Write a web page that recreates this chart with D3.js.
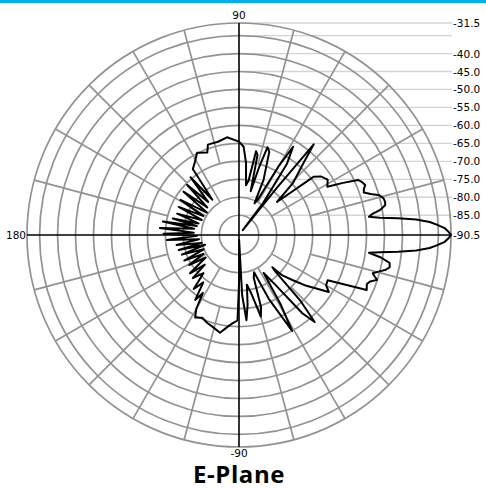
<!DOCTYPE html>
<html>
<head>
<meta charset="utf-8">
<script src="https://cdn.jsdelivr.net/npm/d3@7"></script>
<style>
  body { margin: 0; background: #fff; }
  svg { display: block; }
  .grid { fill: none; stroke: #929292; stroke-width: 1.7; }
  .axis { stroke: #000; stroke-width: 1.6; }
  .lvlLine { stroke: #d4d4d4; stroke-width: 1.3; }
  .lbl { font-family: "DejaVu Sans", sans-serif; font-size: 10.5px; fill: #000; }
  .pattern { fill: none; stroke: #000; stroke-width: 2; stroke-linejoin: round; }
  .title { font-family: "Open Sans", sans-serif; font-weight: bold; font-size: 24px; letter-spacing: 0.6px; fill: #000; }
</style>
</head>
<body>
<script>
(function(){

//pattern data, angle in degrees (0 = right, counter clockwise) and level in dB
var patAngles = [0, 0.8, 1.9, 3.0, 3.9, 5.0, 6.0, 7.0, 8, 9, 10, 11.5, 12.7, 14.2, 15.8, 17.3, 18.8, 20.2, 21.6, 23.2, 24.8, 26.6, 28.6, 32, 35.6, 38, 41, 44, 48, 50.5, 51.2, 51.8,
  53, 56, 58.5, 60, 62, 64, 66, 70, 72, 73.5, 75, 77, 78.5, 80, 82, 84.4, 87, 90, 97, 102.7, 109, 111, 117, 121,
  125, 127, 130, 133, 136, 139, 142, 145, 149, 152, 155, 158, 161, 164, 166, 168, 170, 172, 175, 177, 179,
  181, 184, 186, 189, 192, 194, 196, 199, 202, 205, 208, 211, 214, 218, 221, 223, 227, 230, 233, 236, 238,
  240, 242, 246, 250, 254, 259, 263, 266, 269, 270.5, 271.5, 273, 275, 277, 279, 282, 285, 287, 289, 292,
  295, 299, 301, 303, 306, 309, 311, 313, 315, 316, 317, 320, 323, 327.6, 330, 333, 336.7, 339, 340.5, 342, 343, 344, 345.5,
  346.7, 348, 349.5, 351, 352.2, 353, 354, 355, 356.1, 357, 358.1, 359.2];
var patLevels = [-31.5, -32.1, -33.2, -35.4, -37.3, -41.0, -46.0, -51.0, -54.0, -52.9, -50.7, -49.0, -48.8, -49.0, -49.9, -52.1, -53.8, -53.5, -52.7, -53.2, -54.0, -58.1, -62.5, -61.4, -62.5, -64.2, -76.5, -69.5, -63.9, -57.8, -73.7, -88.8,
  -79.3, -66.7, -61.7, -68.1, -79.3, -80.7, -73.7, -65.9, -64.8, -70.9, -77.9, -67.6, -66.7, -75.1, -76.5, -70.4, -65.9, -64.5, -63.1, -63.9, -63.9, -65.9, -64.8, -66.7,
  -68.1, -78.2, -69.5, -77.9, -70.4, -78.8, -70.9, -79.6, -71.5, -79.3, -72.0, -79.3, -72.3, -78.8, -71.5, -78.5, -69.0, -77.9, -68.4, -77.9, -69.5,
  -78.8, -70.4, -79.3, -72.9, -79.9, -73.2, -80.7, -73.7, -79.9, -73.7, -79.3, -74.3, -79.3, -73.2, -77.9, -72.9, -76.0, -70.9, -74.0, -68.7, -71.5,
  -66.7, -64.5, -65.3, -64.5, -63.9, -62.8, -64.8, -65.9, -66.7, -79.3, -89.1, -73.7, -66.7, -70.9, -76.5, -73.7, -67.0, -69.5, -77.9, -79.3,
  -70.9, -60.0, -68.1, -77.9, -73.7, -62.5, -58.4, -65.3, -76.5, -77.6, -74.0, -70.9, -67.0, -60.9, -62.5, -62.8, -51.8, -52.4, -51.8, -50.1, -51.0, -51.8, -50.1,
  -48.5, -47.6, -47.9, -50.5, -54.0, -51.0, -46.0, -41.0, -37.3, -35.4, -33.2, -32.1];

//radial levels
var ringLevels = [-85, -80, -75, -70, -65, -60, -55, -50, -45, -40, -35, -31.5];
var levelLabels = ["-31.5", "-40.0", "-45.0", "-50.0", "-55.0", "-60.0", "-65.0", "-70.0", "-75.0", "-80.0", "-85.0", "-90.5"];
var levelValues = [-31.5, -40, -45, -50, -55, -60, -65, -70, -75, -80, -85, -90.5];
var axisLabels = ["0", "90", "180", "-90"];

var width = 486, height = 488,
  cx = 239, cy = 235, R = 212;

var rScale = d3.scaleLinear()
  .domain([-90.5, -31.5])
  .range([0, R]);

var svg = d3.select("body")
  .append("svg")
  .attr("width", width)
  .attr("height", height);

//blue rule on top
svg.append("rect")
  .attr("x", 0).attr("y", 0)
  .attr("width", width).attr("height", 3)
  .attr("fill", "#00b0f0");

//level lines out to the right labels
svg.selectAll(".lvlLine")
  .data(levelValues.slice(0, levelValues.length - 1).concat([-35]))
  .enter()
  .append("line")
  .attr("class", "lvlLine")
  .attr("x1", cx)
  .attr("x2", 452)
  .attr("y1", function(d){ return cy - rScale(d); })
  .attr("y2", function(d){ return cy - rScale(d); });

var g = svg.append("g")
  .attr("transform", "translate(" + cx + "," + cy + ")");

//spokes, 30 deg ones start further in than the 15 deg ones
var spokes = d3.range(0, 360, 15).filter(function(a){ return a % 90 != 0; });
g.selectAll(".spoke")
  .data(spokes)
  .enter()
  .append("line")
  .attr("class", "grid")
  .attr("x1", function(a){ return Math.cos(a * Math.PI / 180) * rScale(a % 30 == 0 ? -80 : -70); })
  .attr("y1", function(a){ return -Math.sin(a * Math.PI / 180) * rScale(a % 30 == 0 ? -80 : -70); })
  .attr("x2", function(a){ return Math.cos(a * Math.PI / 180) * R; })
  .attr("y2", function(a){ return -Math.sin(a * Math.PI / 180) * R; });

//rings
g.selectAll(".ring")
  .data(ringLevels)
  .enter()
  .append("circle")
  .attr("class", "grid")
  .attr("r", function(d){ return rScale(d); });

//main axes
g.append("line").attr("class", "axis").attr("x1", -R).attr("x2", R).attr("y1", 0).attr("y2", 0);
g.append("line").attr("class", "axis").attr("x1", 0).attr("x2", 0).attr("y1", -R).attr("y2", R);

//pattern trace
var patData = patAngles.map(function(a, i){ return [a, patLevels[i]]; });
var radial = d3.lineRadial()
  .angle(function(d){ return (90 - d[0]) * Math.PI / 180; })
  .radius(function(d){ return rScale(d[1]); })
  .curve(d3.curveLinearClosed);

g.append("path")
  .datum(patData)
  .attr("class", "pattern")
  .attr("d", radial);

//level labels on the right
svg.selectAll(".lvlLbl")
  .data(levelValues)
  .enter()
  .append("text")
  .attr("class", "lbl")
  .attr("x", 453)
  .attr("y", function(d){ return cy - rScale(d) + 4; })
  .text(function(d, i){ return levelLabels[i]; });

//angle labels
svg.append("text").attr("class", "lbl").attr("x", cx).attr("y", cy - R - 4)
  .attr("text-anchor", "middle").text(axisLabels[1]);
svg.append("text").attr("class", "lbl").attr("x", cx).attr("y", cy + R + 10)
  .attr("text-anchor", "middle").text(axisLabels[3]);
svg.append("text").attr("class", "lbl").attr("x", cx - R - 1).attr("y", cy + 4)
  .attr("text-anchor", "end").text(axisLabels[2]);

//title
svg.append("text")
  .attr("class", "title")
  .attr("x", 239)
  .attr("y", 483)
  .attr("text-anchor", "middle")
  .text("E-Plane");

})();
</script>
</body>
</html>
